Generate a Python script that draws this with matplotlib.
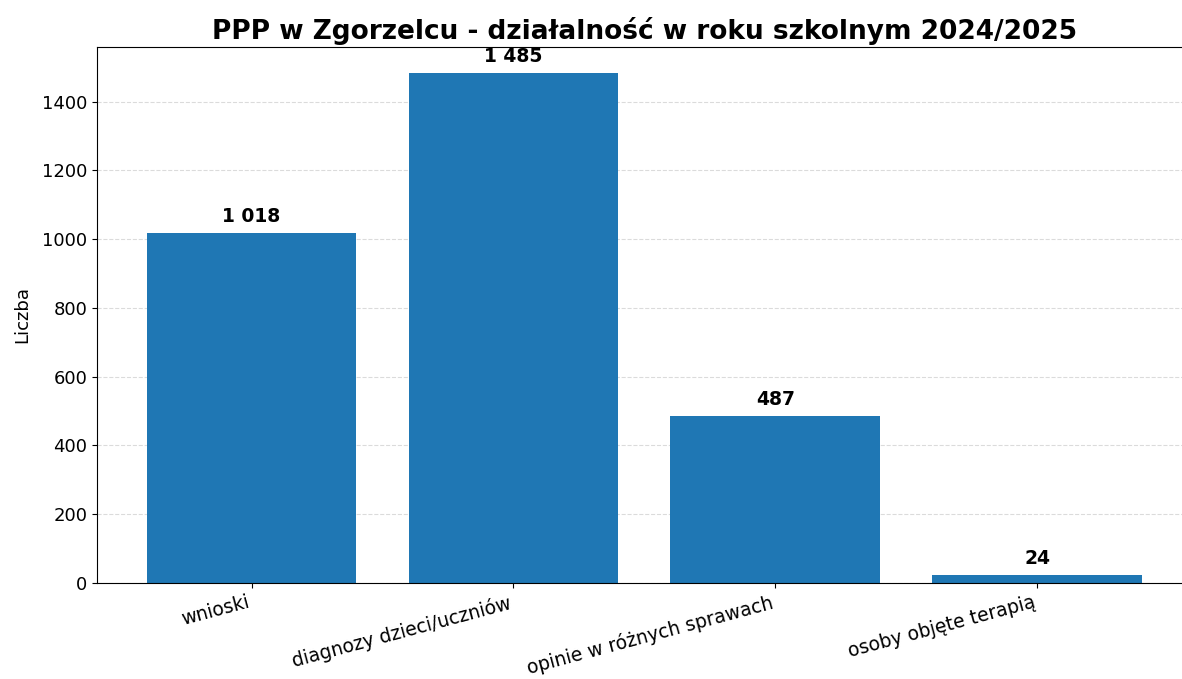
import matplotlib
matplotlib.use('Agg')
import matplotlib.pyplot as plt

kategorie = ['wnioski', 'diagnozy dzieci/uczniów', 'opinie w różnych sprawach', 'osoby objęte terapią']
wartosci = [1018, 1485, 487, 24]

fig = plt.figure(figsize=(11.82, 6.79), dpi=100)
ax = fig.add_axes([0.0821, 0.1414, 0.926, 0.7894])

x = range(len(kategorie))
bars = ax.bar(x, wartosci, width=0.8, color='#1f77b4', zorder=2)

ax.set_ylim(0, max(wartosci) * 1.05)
ax.set_xticks(list(x))
ax.set_xticklabels(kategorie, rotation=15, ha='right', fontsize=13.5)
ax.tick_params(axis='y', labelsize=13)
ax.set_ylabel('Liczba', fontsize=13, labelpad=8)
ax.set_title('PPP w Zgorzelcu - działalność w roku szkolnym 2024/2025',
             fontsize=19, fontweight='bold')
ax.grid(axis='y', linestyle='--', alpha=0.45, zorder=0)
ax.spines['right'].set_visible(False)

# etykiety nad słupkami, separator tysięcy = spacja
for b, v in zip(bars, wartosci):
    ax.annotate(f'{v:,}'.replace(',', ' '), (b.get_x() + b.get_width() / 2, v),
                xytext=(0, 5), textcoords='offset points',
                ha='center', va='bottom', fontsize=13.5, fontweight='bold')

fig.savefig('out.png', dpi=100)
